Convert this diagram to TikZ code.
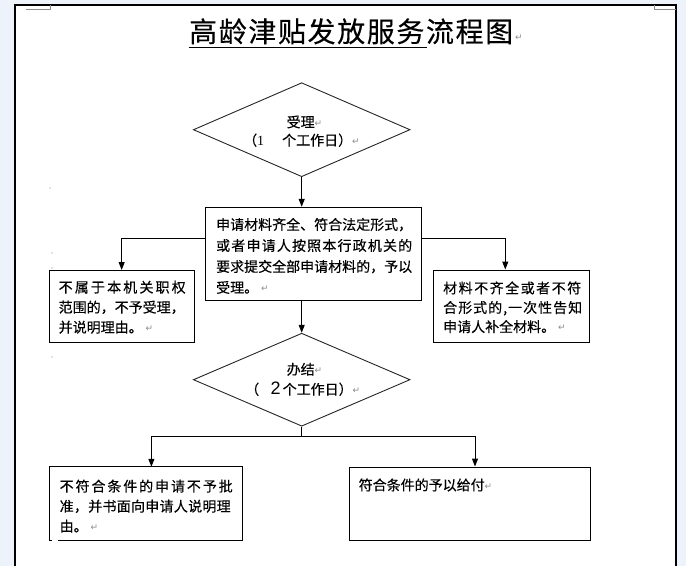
\documentclass[tikz,border=0pt]{standalone}
\usepackage{fontspec}
\usetikzlibrary{shapes.geometric,arrows.meta,calc}
\newfontfamily\cjk[FakeBold=0.3]{Noto Sans CJK SC}
\newfontfamily\djv{DejaVu Sans}
\newfontfamily\tms{Liberation Serif}
\newfontfamily\ars{Liberation Sans}
\definecolor{pagebg}{RGB}{238,242,250}
\definecolor{markgray}{RGB}{140,140,140}
\newcommand\rt{{\djv\fontsize{9}{9}\selectfont\raisebox{1.2pt}{\textcolor{markgray}{↵}}}}
\def\jspread#1{\ifx#1\relax\else\hfill#1\expandafter\jspread\fi}
\def\jfirst#1{#1\jspread}
\newcommand\jl[2]{\hbox to #1{\jfirst#2\relax}}
\begin{document}
\begin{tikzpicture}[x=1pt,y=-1pt,
  boxst/.style={draw=black,line width=1pt,rectangle,inner sep=0pt},
  dia/.style={draw=black!85,line width=0.9pt,diamond,inner sep=0pt,aspect=2.3},
  txt/.style={inner sep=0pt,anchor=base west,font=\cjk\fontsize{14}{14}\selectfont},
  arr/.style={draw=black,line width=1pt,-{Triangle[width=6pt,length=8pt]}},
  conn/.style={draw=black,line width=1pt}]
\useasboundingbox (0,0) rectangle (686,566);
\fill[pagebg] (0,0) rectangle (686,566);
\fill[white] (15,5) rectangle (676,566);
\draw[line width=1.4pt] (15,566) -- (15,5) -- (676,5) -- (676,566);
\draw[markgray,line width=1pt] (26,9) -- (50,9) -- (50,5);
\draw[markgray,line width=1pt] (676,9) -- (654,9) -- (654,5);
\fill[markgray] (50,188) circle (0.6);
\fill[markgray] (52,253) circle (0.6);
\fill[markgray] (52,268) circle (0.6);
\fill[markgray] (52,357) circle (0.6);
% title
\node[inner sep=0pt,anchor=base west,font=\cjk\fontsize{28}{28}\selectfont] (title) at (189,42)
  {\jl{324pt}{高龄津贴发放服务流程图}\hspace{2pt}\rt};
\draw[line width=1.3pt] ($(title.base west)+(0,5.3)$) -- ++(238,0);
% diamonds
\node[dia,minimum width=216.7pt,minimum height=94pt] (d1) at (301.7,129.7) {};
\node[dia,minimum width=216.7pt,minimum height=93pt] (d2) at (301.7,379.7) {};
\node[txt] (d1a) at (286.5,127.3) {受理\rt};
\node[txt] (d1b) at (243,145.5) {（{\tms 1}\hspace{18pt}个工作日）\rt};
\node[txt] (d2a) at (286.5,374.6) {办结\rt};
\node[txt] (d2b) at (245,394.6) {（\hspace{11.5pt}{\ars\fontsize{18}{18}\selectfont 2}\hspace{2pt}个工作日）\rt};
% boxes
\node[boxst,minimum width=216pt,minimum height=93.4pt] (b1) at (313.7,254) {};
\node[boxst,minimum width=144.7pt,minimum height=72pt] (lb) at (121.65,306.5) {};
\node[boxst,minimum width=156pt,minimum height=72pt] (rb) at (511.3,306) {};
\node[inner sep=0pt,minimum width=191.8pt,minimum height=73pt] (bl) at (145.9,503.5) {};
\draw[line width=1pt] ($(bl.south west)+(8,0)$) -- (bl.south east) -- (bl.north east) -- (bl.north west) -- (bl.south west) -- ++(2,0);
\node[boxst,minimum width=241pt,minimum height=73pt] (br) at (469.5,503.5) {};
% box texts
\node[txt] (b1a) at (216,229.8) {\jl{196pt}{申请材料齐全、符合法定形式，}};
\node[txt] (b1b) at (216,250.8) {\jl{196pt}{或者申请人按照本行政机关的}};
\node[txt] (b1c) at (216,271.8) {\jl{196pt}{要求提交全部申请材料的，予以}};
\node[txt] (b1d) at (216,292.8) {受理。\hspace{3pt}\rt};
\node[txt] (lba) at (58.5,292.5) {\jl{127pt}{不属于本机关职权}};
\node[txt] (lbb) at (58.5,312.5) {范围的，不予受理，};
\node[txt] (lbc) at (58.5,332.5) {并说明理由。\hspace{3pt}\rt};
\node[txt] (rba) at (443,293.3) {\jl{138pt}{材料不齐全或者不符}};
\node[txt] (rbb) at (443,312.8) {\jl{139pt}{合形式的,一次性告知}};
\node[txt] (rbc) at (443,332) {申请人补全材料。\hspace{3pt}\rt};
\node[txt] (bla) at (59.5,491.5) {\jl{173pt}{不符合条件的申请不予批}};
\node[txt] (blb) at (59.5,511.5) {\jl{171pt}{准，并书面向申请人说明理}};
\node[txt] (blc) at (59.5,531.5) {由。\hspace{3pt}\rt};
\node[txt] (bra) at (358.5,490.3) {符合条件的予以给付\rt};
% connectors
\draw[arr] (d1.south) -- (d1.south |- b1.north);
\draw[arr] ($(b1.north west)+(0,32)$) -| (lb.north);
\draw[arr] ($(b1.north east)+(0,32)$) -| ([xshift=-6pt]rb.north);
\draw[arr] (d1.south |- b1.south) -- (d2.north);
\coordinate (j) at ($(d2.south)+(0,10)$);
\draw[conn] (d2.south) -- (j);
\draw[arr] (j) -| ([xshift=5.5pt]bl.north);
\draw[arr] (j) -| ([xshift=5.5pt]br.north);
\end{tikzpicture}
\end{document}
